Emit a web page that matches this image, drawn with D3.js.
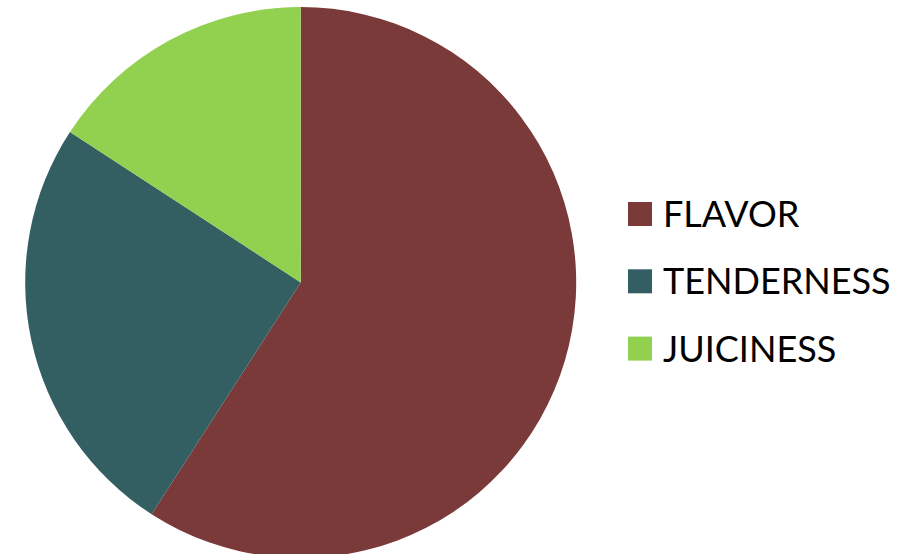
<!DOCTYPE html>
<html><head><meta charset="utf-8">
<script src="https://cdn.jsdelivr.net/npm/d3@7"></script>
<style>body{margin:0;background:#fff}svg{display:block}</style>
</head><body>
<svg id="c" width="915" height="554"></svg>
<script>
const categories = ["FLAVOR", "TENDERNESS", "JUICINESS"];
const values = [59.1, 25.1, 15.8];
const colors = ["#7B3A3A", "#335E62", "#92D050"];

const svg = d3.select("#c");
const cx = 300.7, cy = 282.5, r = 275.5;
const pie = d3.pie().sort(null).value(d => d.v);
const data = categories.map((c, i) => ({c, v: values[i]}));
const arc = d3.arc().innerRadius(0).outerRadius(r);
const color = d3.scaleOrdinal().domain(categories).range(colors);

svg.append("g").attr("transform", `translate(${cx},${cy})`)
  .selectAll("path").data(pie(data)).join("path")
  .attr("d", arc).attr("fill", d => color(d.data.c));

const leg = svg.append("g").selectAll("g").data(categories).join("g")
  .attr("transform", (d, i) => `translate(628,${202 + i * 67.3})`);
leg.append("rect").attr("width", 24).attr("height", 24).attr("fill", d => color(d));
leg.append("text").attr("x", 35).attr("y", 25)
  .attr("font-family", "Lato, sans-serif").attr("font-size", 36).attr("fill", "#000")
  .text(d => d);
</script>
</body></html>
